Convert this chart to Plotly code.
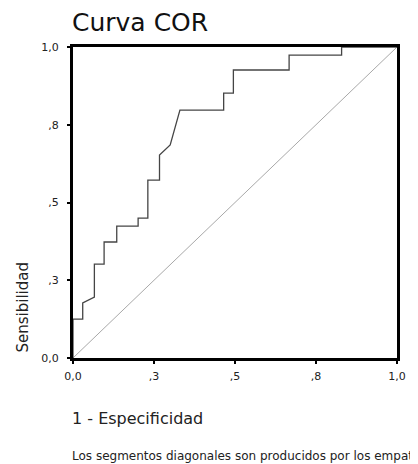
import plotly.graph_objects as go

# ROC curve points (1 - especificidad, sensibilidad)
fpr = [0.0, 0.0, 0.030, 0.030, 0.066, 0.066, 0.096, 0.096, 0.135, 0.135,
       0.201, 0.201, 0.231, 0.231, 0.267, 0.267, 0.300, 0.330, 0.465, 0.465,
       0.495, 0.495, 0.667, 0.667, 0.829, 0.829, 1.0]
tpr = [0.0, 0.125, 0.125, 0.177, 0.196, 0.302, 0.302, 0.373, 0.373, 0.424,
       0.424, 0.450, 0.450, 0.572, 0.572, 0.653, 0.685, 0.797, 0.797, 0.852,
       0.852, 0.926, 0.926, 0.974, 0.974, 1.0, 1.0]
ref_x = [0.0, 1.0]
ref_y = [0.0, 1.0]

tick_vals = [0.0, 0.25, 0.5, 0.75, 1.0]
tick_text = ["0,0", ",3", ",5", ",8", "1,0"]

title_text = "Curva COR"
x_title = "1 - Especificidad"
y_title = "Sensibilidad"
footnote = "Los segmentos diagonales son producidos por los empates."

FONT = "DejaVu Sans, Liberation Sans, sans-serif"

fig = go.Figure()
fig.add_trace(go.Scatter(x=ref_x, y=ref_y, mode="lines",
                         line=dict(color="#a8a8a8", width=1), hoverinfo="skip",
                         showlegend=False))
fig.add_trace(go.Scatter(x=fpr, y=tpr, mode="lines",
                         line=dict(color="#454545", width=1.3),
                         showlegend=False))

axis_common = dict(range=[0, 1], tickvals=tick_vals, ticktext=tick_text,
                   showgrid=False, zeroline=False, showline=True, mirror=True,
                   linecolor="black", linewidth=3, ticks="outside", ticklen=3,
                   tickwidth=2, tickcolor="black",
                   tickfont=dict(family=FONT, size=11, color="#222"))

fig.update_xaxes(**axis_common, ticklabelstandoff=3)
fig.update_yaxes(**axis_common, ticklabelstandoff=6)

# the page body adds an 8px offset, so the figure is sized to fit the window
fig.update_layout(
    width=410, height=456,
    margin=dict(l=65, r=12, t=39, b=106),
    paper_bgcolor="white", plot_bgcolor="white",
    font=dict(family=FONT),
    annotations=[
        dict(text=title_text, xref="paper", yref="paper", x=0, xshift=-3,
             y=1.0, yshift=25, xanchor="left", yanchor="middle", showarrow=False,
             font=dict(family=FONT, size=25, color="#111")),
        dict(text=y_title, xref="paper", yref="paper", x=0, xshift=-51,
             y=0.0, yshift=3, xanchor="center", yanchor="bottom", textangle=-90,
             showarrow=False, font=dict(family=FONT, size=15, color="#222")),
        dict(text=x_title, xref="paper", yref="paper", x=0, xshift=-3, y=0,
             yshift=-60, xanchor="left", yanchor="middle", showarrow=False,
             font=dict(family=FONT, size=16, color="#222")),
        dict(text=footnote, xref="paper", yref="paper", x=0, xshift=-3, y=0,
             yshift=-98, xanchor="left", yanchor="middle", showarrow=False,
             font=dict(family=FONT, size=12, color="#222")),
    ],
)

fig.write_html("out.html")
